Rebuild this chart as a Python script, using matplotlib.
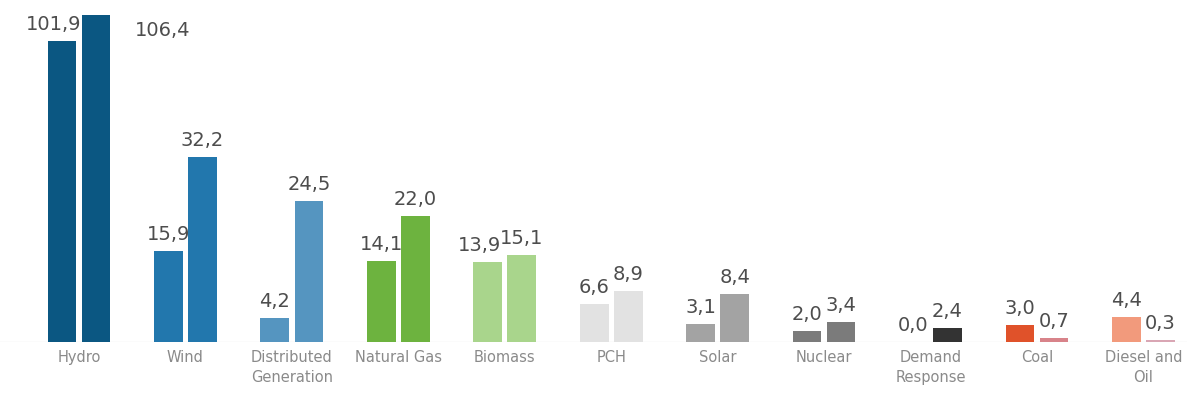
import numpy as np
import matplotlib
matplotlib.use("Agg")
import matplotlib.pyplot as plt

categories = ["Hydro", "Wind", "Distributed\nGeneration", "Natural Gas", "Biomass",
              "PCH", "Solar", "Nuclear", "Demand\nResponse", "Coal", "Diesel and\nOil"]
values_a = [101.9, 15.9, 4.2, 14.1, 13.9, 6.6, 3.1, 2.0, 0.0, 3.0, 4.4]
values_b = [106.4, 32.2, 24.5, 22.0, 15.1, 8.9, 8.4, 3.4, 2.4, 0.7, 0.3]
colors_a = ["#0b5782", "#2277ad", "#5595c0", "#6db33f", "#a9d58c", "#e2e2e2",
            "#a3a3a3", "#7b7b7b", "#333333", "#e0522a", "#f29a7c"]
colors_b = ["#0b5782", "#2277ad", "#5595c0", "#6db33f", "#a9d58c", "#e2e2e2",
            "#a3a3a3", "#7b7b7b", "#333333", "#d8838a", "#d9a6b4"]


# axis break: squeeze 45..95 so Hydro fits next to the small bars
def fwd(y):
    y = np.asarray(y, dtype=float)
    return np.where(y <= 45, y, np.where(y <= 95, 45 + (y - 45) * 0.01, 45.5 + (y - 95)))


def inv(d):
    d = np.asarray(d, dtype=float)
    return np.where(d <= 45, d, np.where(d <= 45.5, 45 + (d - 45) / 0.01, 95 + (d - 45.5)))


def fmt(v):
    return f"{v:.1f}".replace(".", ",")


fig = plt.figure(figsize=(11.87, 3.96), dpi=100)
ax = fig.add_axes([0, 0.1364, 1, 0.961 - 0.1364])
ax.set_yscale("function", functions=(fwd, inv))

x = np.arange(len(categories))
w = 0.27
off = 0.16
bars_a = ax.bar(x - off, values_a, w, color=colors_a, zorder=3)
bars_b = ax.bar(x + off, values_b, w, color=colors_b, zorder=3)

ax.set_xlim(-0.742, 10.41)
ax.set_ylim(0, 106.4)
ax.axhline(0, color="#eeeeee", lw=1, zorder=1)

# nudge a few left-hand labels so neighbouring values don't collide
shift_a = {0: -8, 4: -8}
for i in range(len(categories)):
    ax.annotate(fmt(values_a[i]), (x[i] - off, values_a[i]), xytext=(shift_a.get(i, 0), 7),
                textcoords="offset pixels", ha="center", va="bottom",
                fontsize=14, color="#4d4d4d", zorder=2)
    if i == 0:
        # tallest bar hits the top, so its value sits to the right
        ax.annotate(fmt(values_b[i]), (x[i] + off, values_b[i]), xytext=(67, -15),
                    textcoords="offset pixels", ha="center", va="center",
                    fontsize=14, color="#4d4d4d", zorder=2)
    else:
        ax.annotate(fmt(values_b[i]), (x[i] + off, values_b[i]), xytext=(0, 7),
                    textcoords="offset pixels", ha="center", va="bottom",
                    fontsize=14, color="#4d4d4d", zorder=2)

ax.set_xticks(x)
ax.set_xticklabels(categories, fontsize=10.5, color="#8a8a8a", linespacing=1.35)
ax.tick_params(axis="x", length=0, pad=6)
ax.set_yticks([])
ax.yaxis.set_minor_locator(matplotlib.ticker.NullLocator())
for s in ax.spines.values():
    s.set_visible(False)
ax.patch.set_alpha(0)

fig.savefig("out.png", dpi=100)
